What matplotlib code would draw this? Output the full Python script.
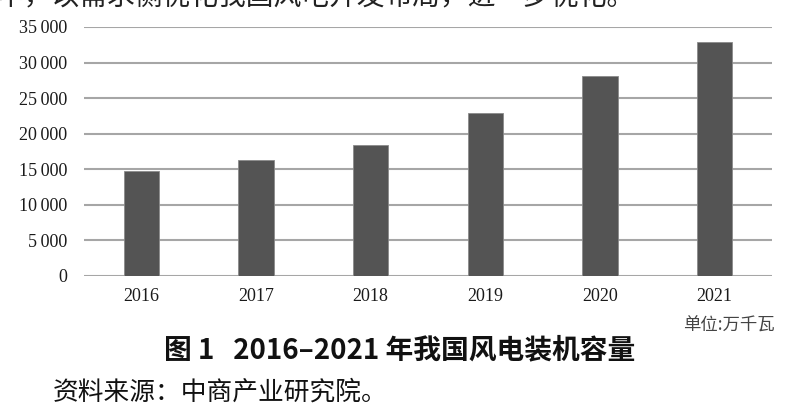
import matplotlib
matplotlib.use('Agg')
import matplotlib.pyplot as plt
from matplotlib.ticker import FuncFormatter

# data: wind power installed capacity, unit 10k kW
years = ['2016', '2017', '2018', '2019', '2020', '2021']
capacity = [14747, 16367, 18426, 22900, 28153, 32848]
y_ticks = [0, 5000, 10000, 15000, 20000, 25000, 30000, 35000]

cjk = ['Noto Sans CJK SC', 'DejaVu Sans']
serif = ['Liberation Serif', 'DejaVu Serif']

fig = plt.figure(figsize=(8, 4.15), dpi=100)
ax = fig.add_axes([0.105, 0.335, 0.86, 0.6])

x = range(len(years))
ax.bar(x, capacity, width=0.31, color='#545454', edgecolor='#8a8a8a',
       linewidth=0.6, zorder=3)

ax.set_xlim(-0.5, len(years) - 0.5)
ax.set_ylim(0, 35000)
ax.set_yticks(y_ticks)
ax.yaxis.set_major_formatter(FuncFormatter(
    lambda v, p: f"{int(v):,}".replace(',', '\u2009')))
ax.set_xticks(list(x))
ax.set_xticklabels(years)

for lab in ax.get_xticklabels() + ax.get_yticklabels():
    lab.set_family(serif)
    lab.set_fontsize(13)
    lab.set_color('#1a1a1a')

ax.tick_params(axis='both', length=0)
ax.tick_params(axis='y', pad=12)
ax.tick_params(axis='x', pad=9)
for s in ax.spines.values():
    s.set_visible(False)
ax.yaxis.grid(True, color='#a6a6a6', linewidth=1.5, zorder=0)
ax.set_axisbelow(True)

# unit note
fig.text(0.968, 0.215, '单位:万千瓦', family=cjk, fontsize=12.5,
         color='#444444', ha='right', va='center')

# caption
fig.text(0.5, 0.155, '图 1   2016–2021 年我国风电装机容量', family=cjk,
         fontsize=20, fontweight='bold', color='#111111',
         ha='center', va='center')

# source line
fig.text(0.066, 0.055, '资料来源：中商产业研究院。', family=cjk,
         fontsize=18.5, color='#111111', ha='left', va='center')

# body text line cut off at the top of the scan
fig.text(-0.005, 0.987, '中，以需求侧优化我国风电开发布局，进一步优化。',
         family=cjk, fontsize=20, color='#222222', ha='left', va='baseline')

fig.savefig('out.png', dpi=100, facecolor='white')
